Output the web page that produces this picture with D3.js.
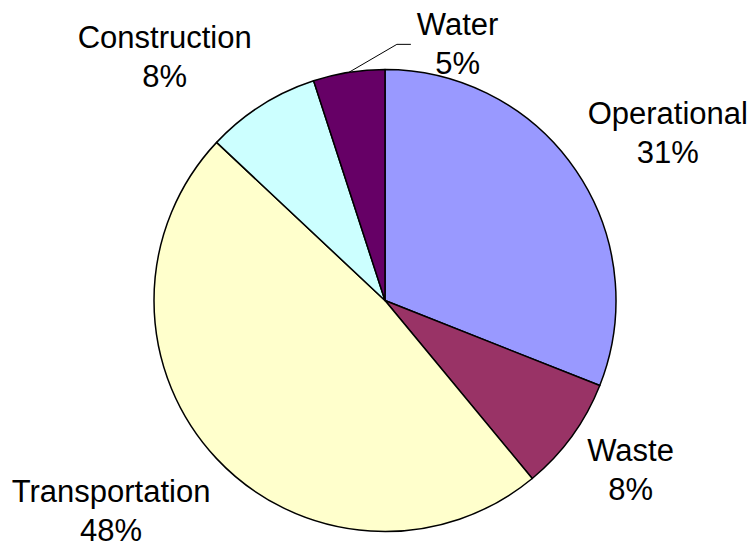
<!DOCTYPE html>
<html>
<head>
<meta charset="utf-8">
<script src="https://cdn.jsdelivr.net/npm/d3@7"></script>
<style>
  html, body { margin: 0; padding: 0; background: #fff; }
  svg { display: block; }
  text { font-family: "Liberation Sans", Arial, sans-serif; font-size: 31px; fill: #000; }
</style>
</head>
<body>
<svg id="chart" width="750" height="549"></svg>
<script>
// Share of footprint by source (percent), clockwise from 12 o'clock
const categories = ["Operational", "Waste", "Transportation", "Construction", "Water"];
const shares = [31, 8, 48, 8, 5];
const sliceColors = ["#9999FF", "#993366", "#FFFFCC", "#CCFFFF", "#660066"];

// label layout: small hand adjustments after the radial placement
const labelNudge = [[0, 0], [4, -6], [4, 12], [-2, -7], [0, 0]];

const width = 750, height = 549;
const cx = 385, cy = 300.5, radius = 231;
const fontSize = 31;
const capHeight = fontSize * 0.716;
const labelReach = 245;   // distance from centre to the nearest label corner
const lineStep = 39;      // spacing between name line and percent line

const svg = d3.select("#chart");
const g = svg.append("g").attr("transform", `translate(${cx},${cy})`);

const pie = d3.pie().sort(null).value(d => d);
const arcs = pie(shares);
const arc = d3.arc().innerRadius(0).outerRadius(radius);

g.selectAll("path.slice")
  .data(arcs)
  .join("path")
  .attr("class", "slice")
  .attr("d", arc)
  .attr("fill", (d, i) => sliceColors[i])
  .attr("stroke", "#000")
  .attr("stroke-width", 1.5)
  .attr("stroke-linejoin", "round");

const fmt = v => `${Math.round(v)}%`;

arcs.forEach((d, i) => {
  const mid = (d.startAngle + d.endAngle) / 2;
  const dir = [Math.sin(mid), -Math.cos(mid)];

  // label block: name on the first line, percent below; origin = first baseline, centred
  const lab = g.append("g").attr("class", "label");
  lab.append("text").attr("text-anchor", "middle").attr("x", 0).attr("y", 0).text(categories[i]);
  lab.append("text").attr("text-anchor", "middle").attr("x", 0).attr("y", lineStep).text(fmt(shares[i]));
  const w = lab.node().getBBox().width;
  const h = capHeight + lineStep;   // cap top of line 1 to baseline of line 2

  if (categories[i] === "Water") {
    // thin slice: label pulled aside with a leader line
    const p1 = [dir[0] * radius, dir[1] * radius];
    const p2 = [p1[0] + 48, p1[1] - 28];
    const p3 = [p2[0] + 14, p2[1]];
    g.append("polyline")
      .attr("points", [p1, p2, p3].map(p => p.join(",")).join(" "))
      .attr("fill", "none")
      .attr("stroke", "#000")
      .attr("stroke-width", 1);
    const left = p3[0] + 6;
    const baseline = p3[1] - 9;
    lab.attr("transform", `translate(${left + w / 2},${baseline})`);
    return;
  }

  const px = dir[0] * labelReach;
  const py = dir[1] * labelReach;
  const left = (dir[0] >= 0 ? px : px - w) + labelNudge[i][0];
  const top = (dir[1] >= 0 ? py : py - h) + labelNudge[i][1];
  lab.attr("transform", `translate(${left + w / 2},${top + capHeight})`);
});
</script>
</body>
</html>
